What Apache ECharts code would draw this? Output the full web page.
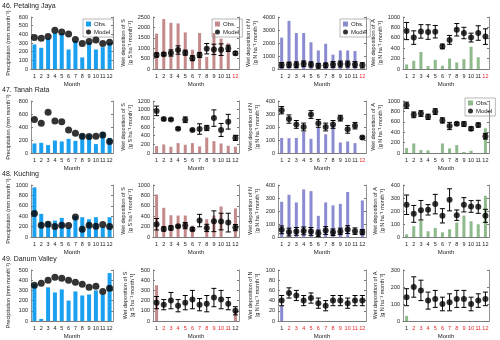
<!DOCTYPE html>
<html>
<head>
<meta charset="utf-8">
<script src="https://cdn.jsdelivr.net/npm/echarts@6/dist/echarts.min.js"></script>
<style>
html, body { margin: 0; padding: 0; background: #fff; }
#chart { width: 500px; height: 340px; }
</style>
</head>
<body>
<div id="chart"></div>
<script>
// months on every x axis
const months = ['1', '2', '3', '4', '5', '6', '7', '8', '9', '10', '11', '12']

// 46. Petaling Jaya
const pjPrecipObs = [283, 245, 351, 416, 409, 225, 325, 134, 302, 225, 252, 302]
const pjPrecipModel = [363, 355, 374, 447, 428, 405, 340, 294, 317, 336, 294, 310]
const pjSObs = [1700, 2400, 2220, 2190, 1760, 930, 1730, 580, 1730, 1460, 1240, null]
const pjSModel = [676, 707, 770, 912, 786, 519, 676, 975, 943, 928, 990, 755]
const pjSErr = [100, 70, 150, 200, 120, 120, 120, 250, 250, 280, 150, 80]
const pjNObs = [2415, 3700, 2770, 2770, 2060, 1430, 1940, 1100, 1430, 1430, 1380, null]
const pjNModel = [300, 330, 330, 400, 350, 250, 280, 350, 380, 380, 350, 280]
const pjNErr = [200, 200, 220, 220, 200, 180, 180, 220, 230, 230, 220, 200]
const pjAObs = [88, 157, 327, 57, 176, 63, 201, 126, 189, 428, 226, null]
const pjAModel = [730, 604, 723, 711, 717, 434, 560, 755, 692, 604, 692, 623]
const pjAErr = [165, 130, 130, 140, 120, 45, 85, 120, 110, 85, 140, 150]

// 47. Tanah Rata
const trPrecipObs = [147, 157, 122, 192, 177, 218, 187, 294, 279, 137, 324, 233]
const trPrecipModel = [516, 456, 628, 491, 481, 354, 304, 258, 253, 258, 278, 177]
const trSObs = [160, 197, 144, 228, 190, 228, 152, 357, 273, 220, 167, 144]
const trSModel = [972, 782, 775, 562, 767, 532, 554, 577, 805, 532, 722, 349]
const trSErr = [110, 25, 20, 20, 65, 20, 120, 60, 190, 150, 170, 60]
const trNObs = [116, 114, 116, 165, 109, 200, 144, 210, 81, 89, 76, null]
const trNModel = [329, 261, 220, 200, 296, 228, 200, 220, 268, 182, 210, 119]
const trNErr = [28, 32, 30, 30, 30, 30, 30, 30, 22, 30, 25, 10]
const trAObs = [95, 184, 57, 51, 0, 184, 89, 152, 19, 44, 0, 475]
const trAModel = [918, 734, 759, 696, 797, 627, 519, 563, 557, 468, 538, 323]
const trAErr = [60, 55, 55, 50, 55, 50, 70, 25, 45, 35, 40, 55]

// 48. Kuching
const kuPrecipObs = [955, 445, 297, 316, 368, 174, 400, 381, 342, 381, 194, 381]
const kuPrecipModel = [452, 226, 245, 200, 226, 219, 387, 148, 226, 206, 239, 200]
const kuSObs = [819, 561, 419, 413, 413, 219, 0, 342, 413, 587, 0, 550]
const kuSModel = [245, 155, 174, 206, 219, 148, 316, 174, 303, 297, 277, 181]
const kuSErr = [110, 40, 40, 20, 60, 30, 120, 70, 200, 160, 180, 60]
const kuNObs = [271, 325, 266, 366, 353, 163, 266, 243, 255, 346, 0, 281]
const kuNModel = [55, 38, 43, 47, 43, 28, 50, 37, 43, 57, 45, 38]
const kuNErr = [30, 30, 30, 30, 30, 25, 30, 25, 25, 30, 25, 20]
const kuAObs = [21, 83, 124, 44, 70, 36, 59, 111, 165, 121, 98, 317]
const kuAModel = [248, 178, 206, 209, 253, 163, 286, 168, 248, 235, 232, 163]
const kuAErr = [75, 65, 75, 40, 75, 55, 85, 40, 55, 45, 50, 50]

// 49. Danum Valley
const dvPrecipObs = [360, 20, 330, 280, 310, 200, 290, 250, 260, 300, 260, 470]
const dvPrecipModel = [350, 370, 400, 430, 420, 400, 380, 360, 330, 340, 290, 320]
const dvSObs = [350, null, null, null, null, null, null, null, null, null, null, 100]
const dvSModel = [180, 160, 200, 150, 180, 210, 160, 170, 230, 210, 170, 100]
const dvSErr = [60, 50, 80, 60, 70, 90, 60, 80, 90, 90, 60, 40]
const dvNObs = [30, null, null, null, null, null, null, null, null, null, null, null]
const dvNModel = [40, 55, 50, 40, 45, 35, 30, 40, 40, 35, 40, 40]
const dvNErr = [10, 10, 10, 10, 10, 10, 10, 10, 10, 10, 10, 10]
const dvAObs = [30, null, null, null, null, null, null, null, null, null, null, null]
const dvAModel = [140, 200, 180, 120, 130, 100, 110, 130, 130, 100, 120, 130]
const dvAErr = [50, 60, 60, 50, 50, 40, 50, 50, 50, 40, 40, 40]

const siteNames = ['46. Petaling Jaya', '47. Tanah Rata', '48. Kuching', '49. Danum Valley']

const red = '#e8262a'
const axisGrey = '#777'
const colours = ['#1aa0ee', '#c4898b', '#8b8bd1', '#8fba8c']
const yNames = [
  'Precipitation (mm month⁻¹)',
  'Wet deposition of S\n[g S ha⁻¹ month⁻¹]',
  'Wet deposition of N\n[g N ha⁻¹ month⁻¹]',
  'Wet deposition of A\n[g N ha⁻¹ month⁻¹]'
]
const cols = [
  { left: 31, width: 82 },
  { left: 153, width: 86 },
  { left: 278, width: 88 },
  { left: 403, width: 86 }
]
const rowTops = [17, 101, 185, 270]
const font = 'Liberation Sans, Arial, sans-serif'

const panels = [
  // row 0
  { obs: pjPrecipObs, model: pjPrecipModel, max: 600, interval: 100, legend: [83, 19] },
  { obs: pjSObs, model: pjSModel, err: pjSErr, max: 2500, interval: 500, red: ['12'], legend: [212, 19] },
  { obs: pjNObs, model: pjNModel, err: pjNErr, max: 4000, interval: 1000, red: ['12'], legend: [340, 19] },
  { obs: pjAObs, model: pjAModel, err: pjAErr, max: 1000, interval: 200, red: ['12'] },
  // row 1
  { obs: trPrecipObs, model: trPrecipModel, max: 800, interval: 200 },
  { obs: trSObs, model: trSModel, err: trSErr, max: 1200, interval: 200 },
  { obs: trNObs, model: trNModel, err: trNErr, max: 400, interval: 100, red: ['12'] },
  { obs: trAObs, model: trAModel, err: trAErr, max: 1000, interval: 200, legend: [465, 98] },
  // row 2
  { obs: kuPrecipObs, model: kuPrecipModel, max: 1000, interval: 200 },
  { obs: kuSObs, model: kuSModel, err: kuSErr, max: 1000, interval: 200 },
  { obs: kuNObs, model: kuNModel, err: kuNErr, max: 400, interval: 100 },
  { obs: kuAObs, model: kuAModel, err: kuAErr, max: 400, interval: 100 },
  // row 3
  { obs: dvPrecipObs, model: dvPrecipModel, max: 500, interval: 100 },
  { obs: dvSObs, model: dvSModel, err: dvSErr, max: 500, interval: 100, red: ['2', '3', '4', '5', '6', '7', '8', '9', '10', '11'] },
  { obs: dvNObs, model: dvNModel, err: dvNErr, max: 100, interval: 20, red: ['2', '3', '4', '5', '6', '7', '8', '9', '10', '11', '12'] },
  { obs: dvAObs, model: dvAModel, err: dvAErr, max: 300, interval: 100, red: ['2', '3', '4', '5', '6', '7', '8', '9', '10', '11', '12'] }
]

const option = {
  animation: false,
  textStyle: { fontFamily: font },
  title: [],
  legend: [],
  grid: [],
  xAxis: [],
  yAxis: [],
  series: []
}

siteNames.forEach((name, r) => {
  option.title.push({
    text: name,
    left: 2,
    top: rowTops[r] - 14,
    padding: 0,
    textStyle: { fontSize: 7, fontWeight: 'normal', color: '#222', fontFamily: font }
  })
})

const errorBar = (params, api) => {
  const x = api.value(0)
  const lo = api.coord([x, api.value(1)])
  const hi = api.coord([x, api.value(2)])
  const cap = 2.5
  const style = { stroke: '#000', lineWidth: 1 }
  return {
    type: 'group',
    children: [
      { type: 'line', shape: { x1: lo[0], y1: lo[1], x2: hi[0], y2: hi[1] }, style },
      { type: 'line', shape: { x1: lo[0] - cap, y1: lo[1], x2: lo[0] + cap, y2: lo[1] }, style },
      { type: 'line', shape: { x1: hi[0] - cap, y1: hi[1], x2: hi[0] + cap, y2: hi[1] }, style }
    ]
  }
}

panels.forEach((p, g) => {
  const r = Math.floor(g / 4)
  const c = g % 4
  const redSet = p.red || []
  option.grid.push({ left: cols[c].left, width: cols[c].width, top: rowTops[r], height: 52 })

  // bottom month axis
  option.xAxis.push({
    type: 'category',
    gridIndex: g,
    data: months,
    name: 'Month',
    nameLocation: 'middle',
    nameGap: 12,
    nameTextStyle: { fontSize: 6, color: '#222' },
    axisLine: { lineStyle: { color: axisGrey, width: 0.8 } },
    axisTick: { alignWithLabel: true, inside: true, length: 2, lineStyle: { color: axisGrey } },
    axisLabel: {
      interval: 0,
      fontSize: 5.5,
      margin: 4,
      color: (v) => (redSet.includes(v) ? red : '#222')
    }
  })
  // top frame
  option.xAxis.push({
    type: 'category',
    gridIndex: g,
    data: months,
    position: 'top',
    axisLine: { lineStyle: { color: axisGrey, width: 0.8 } },
    axisTick: { alignWithLabel: true, interval: 0, inside: true, length: 2, lineStyle: { color: axisGrey } },
    axisLabel: { show: false }
  })

  option.yAxis.push({
    type: 'value',
    gridIndex: g,
    min: 0,
    max: p.max,
    interval: p.interval,
    name: yNames[c],
    nameLocation: 'middle',
    nameRotate: 90,
    nameGap: c === 0 ? 19 : 17,
    nameTextStyle: { fontSize: 5.5, color: '#222', lineHeight: 7 },
    axisLine: { show: true, lineStyle: { color: axisGrey, width: 0.8 } },
    axisTick: { show: true, inside: true, length: 2, lineStyle: { color: axisGrey } },
    axisLabel: { fontSize: 5.5, margin: 3, color: '#222', formatter: (v) => String(v) },
    splitLine: { show: false }
  })
  option.yAxis.push({
    type: 'value',
    gridIndex: g,
    min: 0,
    max: p.max,
    interval: p.interval,
    position: 'right',
    axisLine: { show: true, lineStyle: { color: axisGrey, width: 0.8 } },
    axisTick: { show: true, inside: true, length: 2, lineStyle: { color: axisGrey } },
    axisLabel: { show: false },
    splitLine: { show: false }
  })

  const xi = g * 2
  const yi = g * 2
  option.series.push({
    name: 'Obs.',
    type: 'bar',
    xAxisIndex: xi,
    yAxisIndex: yi,
    data: p.obs,
    barWidth: c === 0 ? 4 : 3,
    itemStyle: { color: colours[c] }
  })
  if (p.err) {
    option.series.push({
      name: 'range',
      type: 'custom',
      xAxisIndex: xi,
      yAxisIndex: yi,
      renderItem: errorBar,
      encode: { x: 0, y: [1, 2] },
      data: p.model.map((v, i) => [i, v - p.err[i], v + p.err[i]]),
      z: 3
    })
  }
  option.series.push({
    name: 'Model',
    type: 'scatter',
    xAxisIndex: xi,
    yAxisIndex: yi,
    data: p.model,
    symbol: 'circle',
    symbolSize: c === 0 ? 7 : 6,
    itemStyle: { color: '#000' },
    z: 4
  })

  if (p.legend) {
    option.legend.push({
      left: p.legend[0],
      top: p.legend[1],
      orient: 'vertical',
      padding: [2, 3],
      itemGap: 2,
      itemWidth: 5,
      itemHeight: 5,
      borderColor: '#888',
      borderWidth: 0.6,
      selectedMode: false,
      textStyle: { fontSize: 6, color: '#222', padding: [0, 0, 0, -2] },
      data: [
        { name: 'Obs.', icon: 'rect', itemStyle: { color: colours[c] } },
        { name: 'Model', icon: 'circle', itemStyle: { color: '#000' } }
      ]
    })
  }
})

const chartInstance = echarts.init(document.getElementById('chart'))
chartInstance.setOption(option)
</script>
</body>
</html>
